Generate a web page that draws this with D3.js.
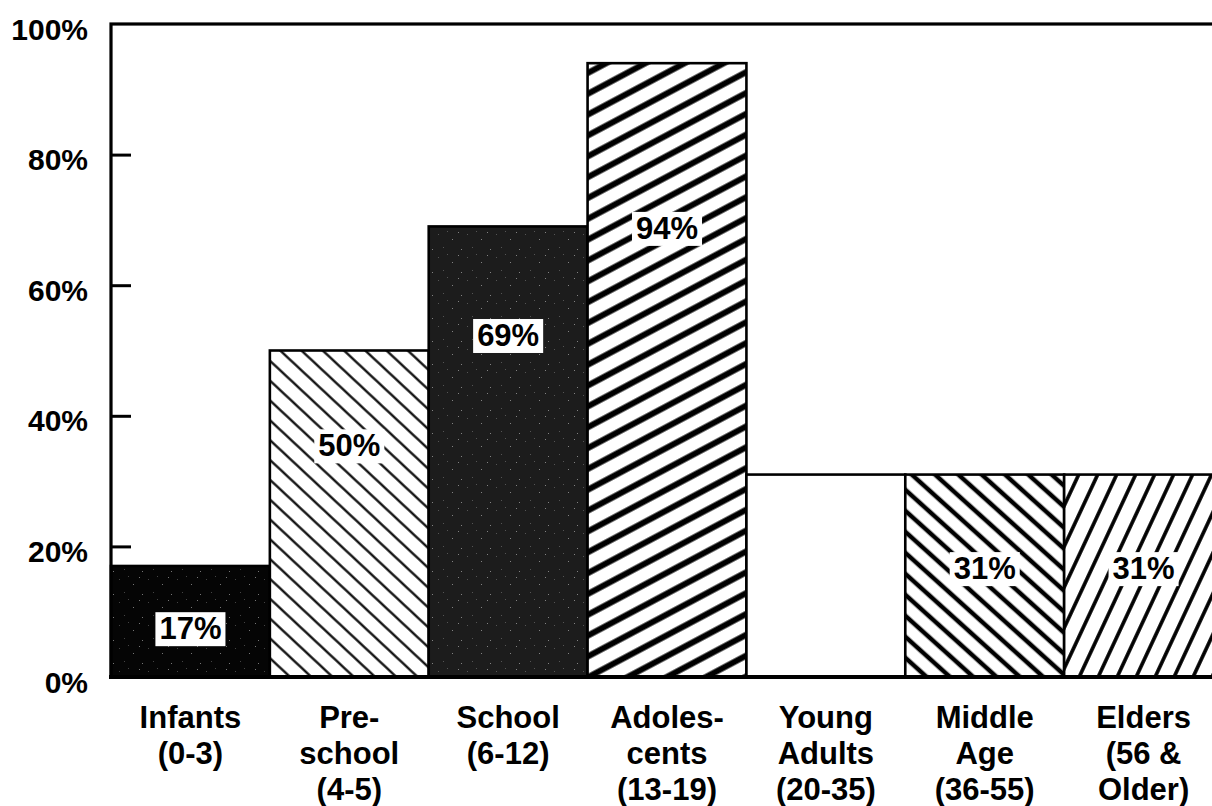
<!DOCTYPE html>
<html>
<head>
<meta charset="utf-8">
<script src="https://cdn.jsdelivr.net/npm/d3@7"></script>
<style>
  html, body { margin: 0; padding: 0; background: #fff; }
  svg { display: block; }
  text { font-family: "Liberation Sans", Arial, Helvetica, sans-serif; font-weight: bold; fill: #000; }
</style>
</head>
<body>
<svg id="chart" width="1212" height="806"></svg>
<script>
// ---- data ----
const categories = [
  ["Infants", "(0-3)"],
  ["Pre-", "school", "(4-5)"],
  ["School", "(6-12)"],
  ["Adoles-", "cents", "(13-19)"],
  ["Young", "Adults", "(20-35)"],
  ["Middle", "Age", "(36-55)"],
  ["Elders", "(56 &", "Older)"]
];
const values = [17, 50, 69, 94, 31, 31, 31];
const valueLabels = ["17%", "50%", "69%", "94%", null, "31%", "31%"];
const labelAt = [7.5, 35.5, 52.4, 68.8, null, 16.7, 16.7]; // label anchor, in % units
const yTicks = [0, 20, 40, 60, 80, 100];
const yTickLabels = ["0%", "20%", "40%", "60%", "80%", "100%"];

// ---- layout ----
const svg = d3.select("#chart");
const x = d3.scaleBand().domain(d3.range(categories.length)).range([111, 1223]).padding(0);
const y = d3.scaleLinear().domain([0, 100]).range([677, 24]);

const defs = svg.append("defs");
function hatch(id, angle, spacing, width) {
  const p = defs.append("pattern").attr("id", id)
    .attr("patternUnits", "userSpaceOnUse")
    .attr("width", spacing).attr("height", spacing)
    .attr("patternTransform", `rotate(${angle})`);
  p.append("rect").attr("width", spacing).attr("height", spacing).attr("fill", "#fff");
  p.append("line").attr("x1", spacing / 2).attr("x2", spacing / 2)
    .attr("y1", -1).attr("y2", spacing + 1)
    .attr("stroke", "#000").attr("stroke-width", width);
}
function speckle(id, base) {
  const p = defs.append("pattern").attr("id", id)
    .attr("patternUnits", "userSpaceOnUse").attr("width", 29).attr("height", 23);
  p.append("rect").attr("width", 29).attr("height", 23).attr("fill", base);
  [[3, 4], [17, 9], [8, 17], [23, 2], [12, 1], [26, 19]].forEach(([a, b], i) => {
    p.append("rect").attr("x", a).attr("y", b).attr("width", 1).attr("height", 1)
      .attr("fill", "#fff").attr("opacity", i % 2 ? 0.45 : 0.25);
  });
}
speckle("pInf", "#050505");
hatch("pPre", -47, 14.5, 2.2);
speckle("pSch", "#1c1c1c");
hatch("pAdo", 62, 18.4, 6);
hatch("pMid", -48, 15.6, 4.5);
hatch("pEld", 25, 17.2, 3.6);
const fills = ["url(#pInf)", "url(#pPre)", "url(#pSch)", "url(#pAdo)", "#fff", "url(#pMid)", "url(#pEld)"];

// bars
svg.append("g").selectAll("rect").data(values).join("rect")
  .attr("x", (d, i) => x(i))
  .attr("width", x.bandwidth())
  .attr("y", d => y(d))
  .attr("height", d => y(0) - y(d))
  .attr("fill", (d, i) => fills[i])
  .attr("stroke", "#000").attr("stroke-width", 2.6);

// value labels
const lab = svg.append("g").selectAll("g").data(values.map((v, i) => i).filter(i => valueLabels[i]))
  .join("g")
  .attr("transform", i => `translate(${x(i) + x.bandwidth() / 2},${y(labelAt[i])})`);
lab.append("rect").attr("class", "bg").attr("fill", "#fff");
lab.append("text").attr("text-anchor", "middle").attr("dy", "0.36em")
  .style("font-size", "31px").text(i => valueLabels[i]);
lab.each(function () {
  const g = d3.select(this);
  const bb = g.select("text").node().getBBox();
  g.select("rect.bg").attr("x", bb.x - 4).attr("y", bb.y + 1).attr("width", bb.width + 8).attr("height", bb.height - 1);
});

// frame
svg.append("rect").attr("x", 111).attr("y", 24).attr("width", 1140).attr("height", 653)
  .attr("fill", "none").attr("stroke", "#000").attr("stroke-width", 3.2);
svg.append("line").attr("x1", 109).attr("x2", 1212).attr("y1", y(0)).attr("y2", y(0))
  .attr("stroke", "#000").attr("stroke-width", 4);

// inward ticks
const tickAxis = svg.append("g").attr("transform", "translate(111,0)")
  .call(d3.axisRight(y).tickValues(yTicks.filter(t => t > 0 && t < 100)).tickSize(20).tickFormat(""));
tickAxis.select(".domain").remove();
tickAxis.selectAll("line").attr("stroke", "#000").attr("stroke-width", 3);

// y tick labels
const labAxis = svg.append("g").attr("transform", "translate(111,0)")
  .call(d3.axisLeft(y).tickValues(yTicks).tickSize(0).tickPadding(23).tickFormat((d, i) => yTickLabels[i]));
labAxis.select(".domain").remove();
labAxis.selectAll("text").attr("dy", "0.5em").style("font-size", "30px")
  .style("font-family", "'Liberation Sans', Arial, sans-serif").style("font-weight", "bold").attr("fill", "#000");

// category labels
const cat = svg.append("g").selectAll("text").data(categories).join("text")
  .attr("text-anchor", "middle").style("font-size", "31px")
  .attr("transform", (d, i) => `translate(${x(i) + x.bandwidth() / 2},0)`);
cat.selectAll("tspan").data(d => d).join("tspan")
  .attr("x", 0).attr("y", (d, j) => 728 + j * 36).text(d => d);
</script>
</body>
</html>
